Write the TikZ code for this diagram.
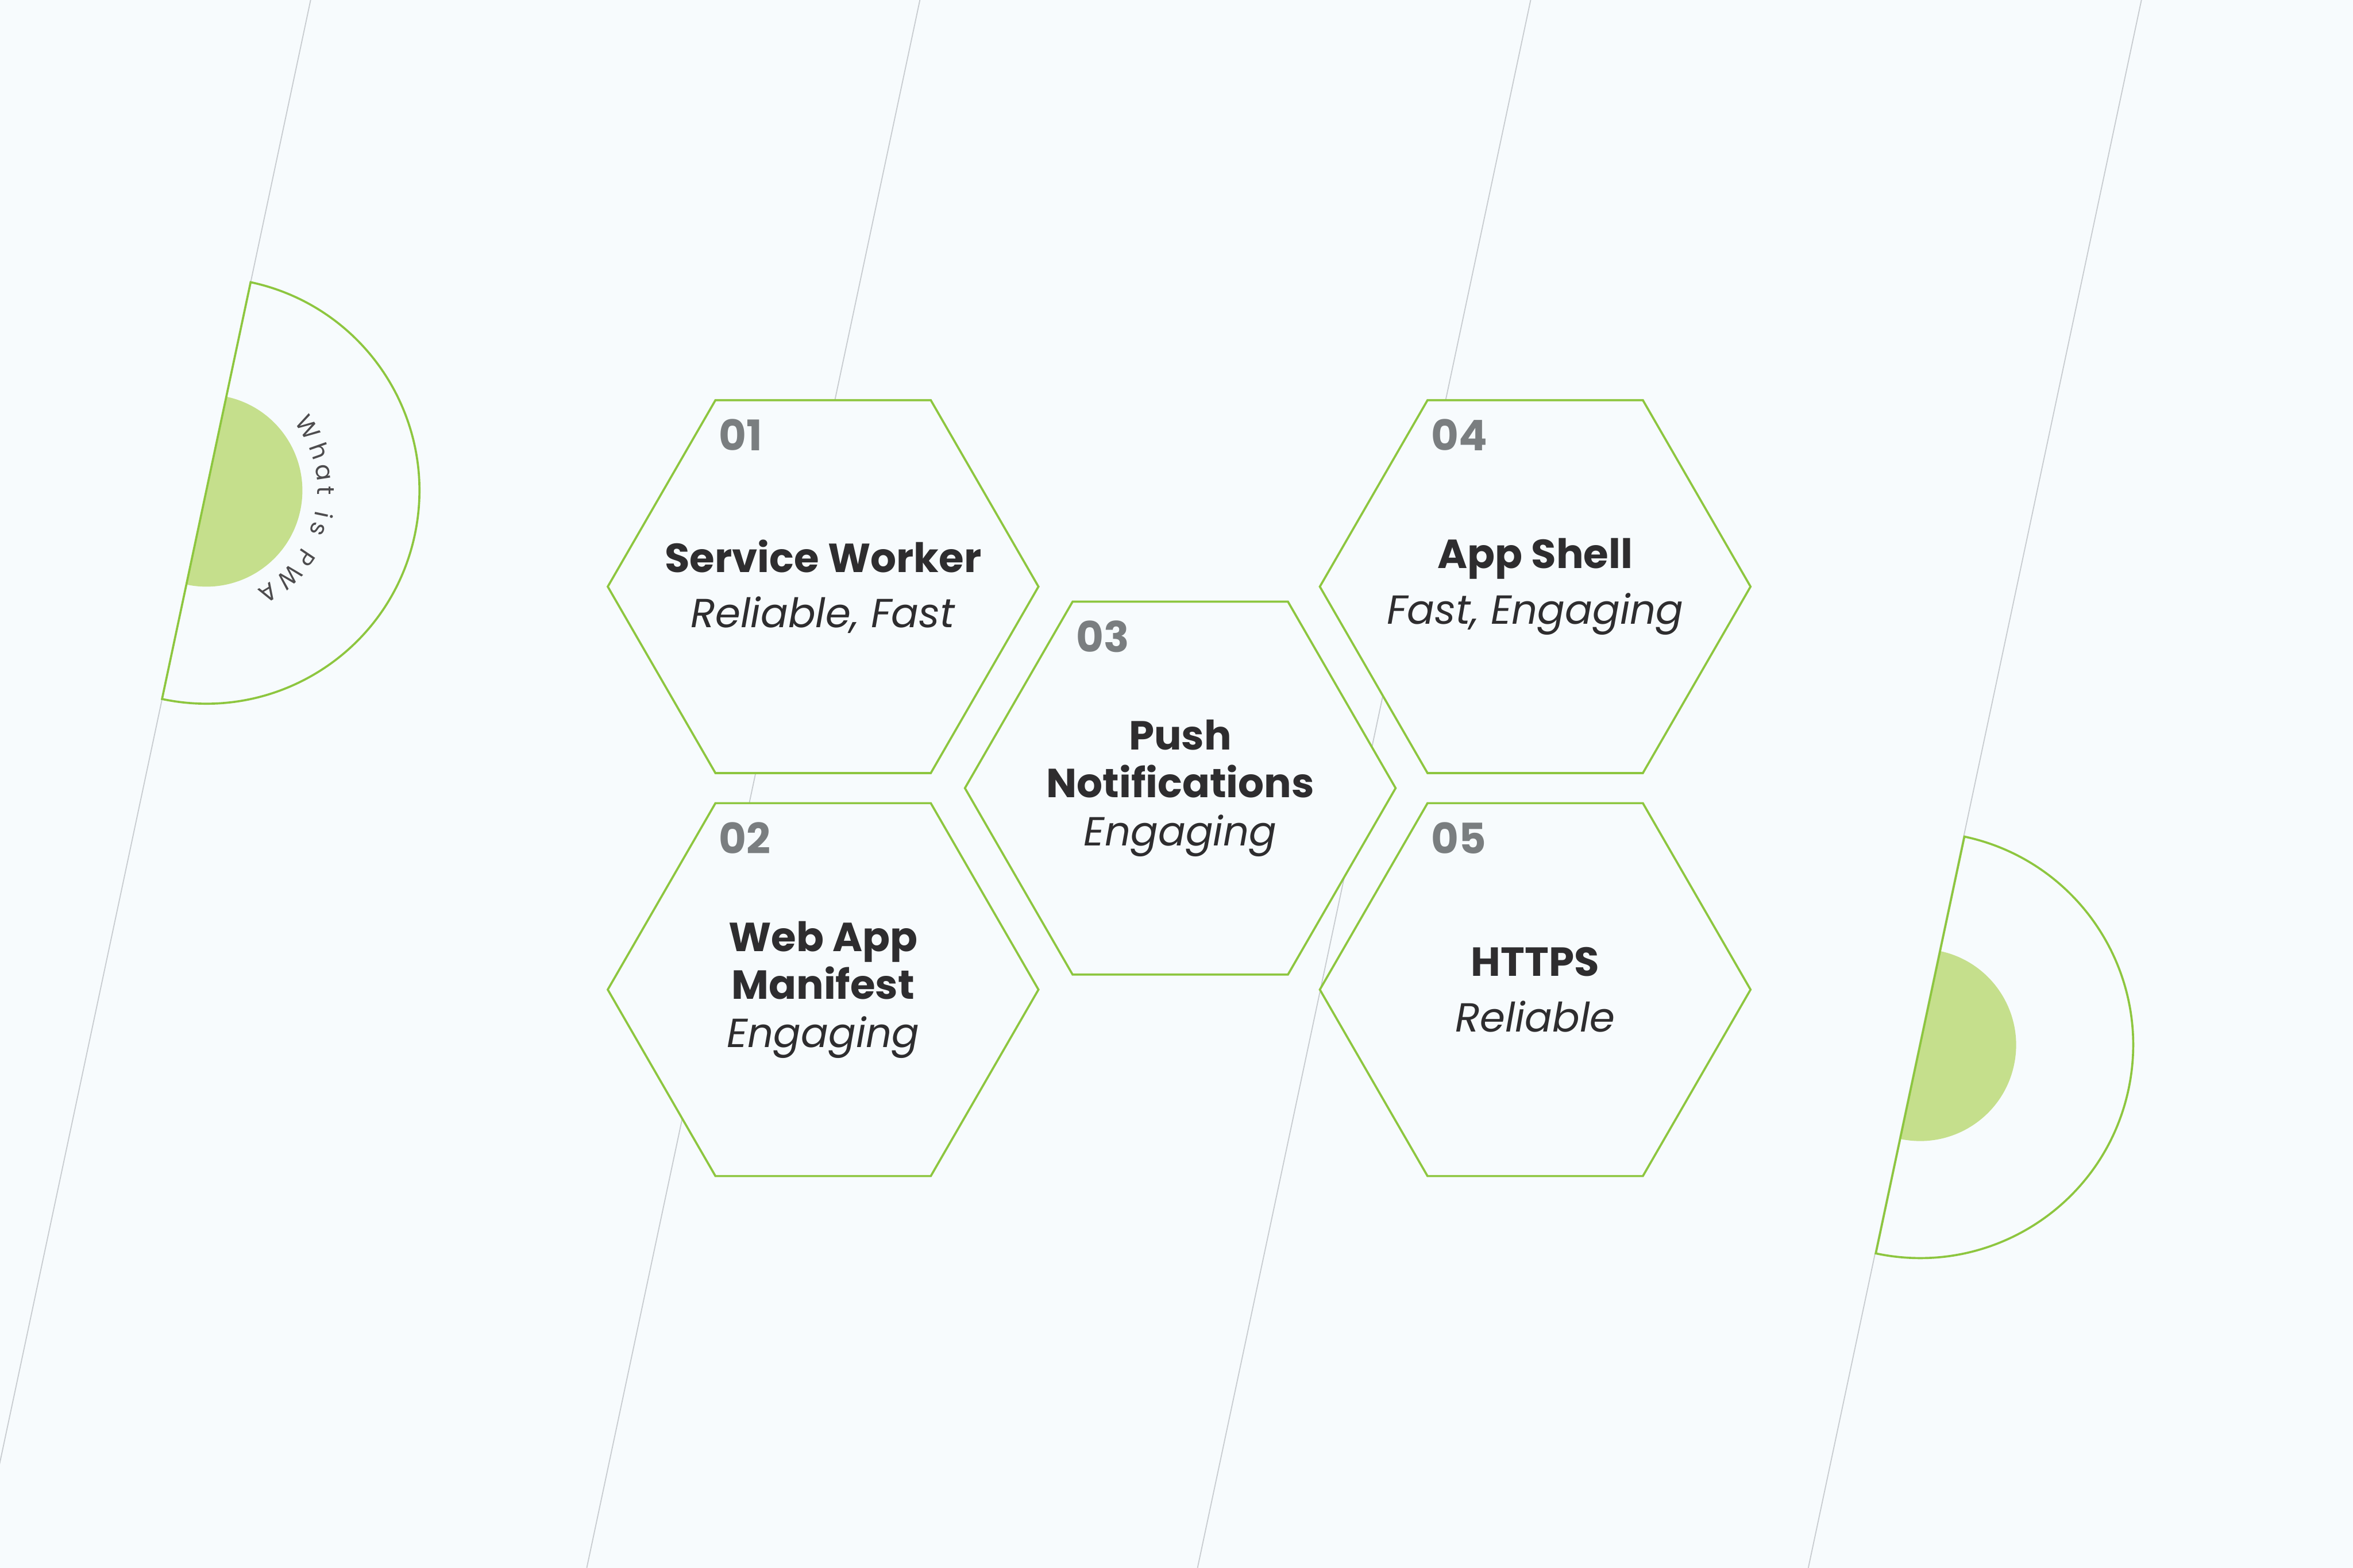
\documentclass[tikz,border=0pt]{standalone}
\usepackage{fontspec}
\setmainfont{Poppins}
\usepackage{xcolor}
\definecolor{pwabg}{RGB}{247,251,253}
\definecolor{pwagreen}{RGB}{141,198,63}
\definecolor{pwalight}{RGB}{197,223,140}
\definecolor{pwagrid}{RGB}{200,204,208}
\definecolor{pwadark}{RGB}{46,45,47}
\definecolor{pwagray}{RGB}{122,126,128}
\usepackage{tikz}
\usetikzlibrary{shapes.geometric, positioning, calc, decorations.text}
\tikzset{
  hexa/.style={
    regular polygon, regular polygon sides=6,
    draw=pwagreen, fill=pwabg, line width=0.4pt,
    minimum size=2.87cm, inner sep=0pt, outer sep=0pt
  },
  hextext/.style={
    inner sep=0pt, align=center, text=pwadark,
    font=\fontsize{7.7}{9.1}\selectfont
  },
  num/.style={
    anchor=west, inner sep=0pt, text=pwagray,
    font=\bfseries\fontsize{8}{10}\selectfont
  },
  gridline/.style={pwagrid, line width=0.2pt},
  halfdisc/.style={draw=pwagreen, line width=0.4pt},
}

\begin{document}
\begin{tikzpicture}
  \useasboundingbox (0,0) rectangle (15.68,10.45);
  \fill[pwabg] (0,0) rectangle (15.68,10.45);

  % slanted background lines
  \draw[gridline] (2.07,10.45)  -- (-0.15,0);
  \draw[gridline] (6.13,10.45)  -- (3.91,0);
  \draw[gridline] (10.20,10.45) -- (7.98,0);
  \draw[gridline] (14.27,10.45) -- (12.05,0);

  % half discs
  \coordinate (lc) at (1.375,7.18);
  \coordinate (rc) at (12.795,3.485);
  \fill[pwabg] ($(lc)+(78:1.42)$) arc[start angle=78, end angle=-102, radius=1.42] -- cycle;
  \fill[pwalight] ($(lc)+(78:0.64)$) arc[start angle=78, end angle=-102, radius=0.64] -- cycle;
  \draw[halfdisc] ($(lc)+(78:1.42)$) arc[start angle=78, end angle=-102, radius=1.42] -- cycle;
  \fill[pwabg] ($(rc)+(78:1.42)$) arc[start angle=78, end angle=-102, radius=1.42] -- cycle;
  \fill[pwalight] ($(rc)+(78:0.64)$) arc[start angle=78, end angle=-102, radius=0.64] -- cycle;
  \draw[halfdisc] ($(rc)+(78:1.42)$) arc[start angle=78, end angle=-102, radius=1.42] -- cycle;

  \path[decorate, decoration={text along path, text align=fit to path,
      text color=pwadark!85,
      text={|\fontsize{4.6}{5}\selectfont|What is PWA}}]
    ($(lc)+(38:0.74)$) arc[start angle=38, end angle=-63, radius=0.74];

  % hexagons
  \node (sw)    [hexa] at (5.485,6.54) {};
  \node (wam)   [hexa, below=0.2cm of sw] {};
  \node (push)  [hexa] at ($(sw.center)!0.5!(wam.center)+(2.38,0)$) {};
  \node (shell) [hexa, right=1.875cm of sw] {};
  \node (https) [hexa, below=0.2cm of shell] {};

  \node (swtxt)    [hextext] at (sw.center)    {\textbf{Service Worker}\\[1.4pt]\textit{Reliable, Fast}};
  \node (wamtxt)   [hextext] at (wam.center)   {\textbf{Web App}\\\textbf{Manifest}\\\textit{Engaging}};
  \node (pushtxt)  [hextext] at (push.center)  {\textbf{Push}\\\textbf{Notifications}\\\textit{Engaging}};
  \node (shelltxt) [hextext] at (shell.center) {\textbf{App Shell}\\[1.4pt]\textit{Fast, Engaging}};
  \node (httpstxt) [hextext] at (https.center) {\textbf{HTTPS}\\[1.4pt]\textit{Reliable}};

  \node (n01) [num] at ($(sw.center)+(-0.70,1.01)$)    {01};
  \node (n02) [num] at ($(wam.center)+(-0.70,1.01)$)   {02};
  \node (n03) [num] at ($(push.center)+(-0.70,1.01)$)  {03};
  \node (n04) [num] at ($(shell.center)+(-0.70,1.01)$) {04};
  \node (n05) [num] at ($(https.center)+(-0.70,1.01)$) {05};
\end{tikzpicture}
\end{document}
